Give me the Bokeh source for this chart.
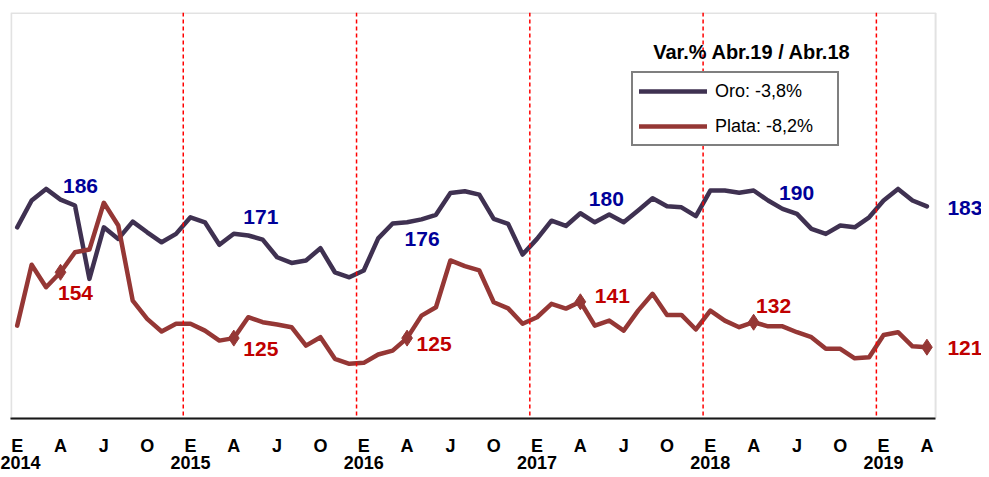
from bokeh.plotting import figure
from bokeh.models import (Range1d, FixedTicker, LinearAxis, Span, Label, Legend,
                          LegendItem, ColumnDataSource, BoxAnnotation)
from bokeh.embed import file_html
from bokeh.resources import INLINE

# ---- data (monthly, Ene-2014 .. Abr-2019) ----
years = ["2014", "2015", "2016", "2017", "2018", "2019"]
month_letters = ["E", "A", "J", "O"]          # Ene, Abr, Jul, Oct
oro = [173.8, 185.6, 190.7, 186.0, 183.4, 151.1, 173.8, 168.7, 176.3, 171.6, 167.2, 170.9,
       178.2, 176.0, 166.1, 171.0, 170.2, 168.4, 160.6, 158.1, 159.2, 164.6, 154.0, 151.8,
       154.8, 168.9, 175.5, 176.0, 177.3, 179.3, 188.9, 189.7, 188.2, 177.5, 175.3, 161.8,
       168.7, 176.7, 174.4, 180.0, 176.0, 179.4, 176.0, 181.2, 186.6, 183.1, 182.6, 178.7,
       190.0, 190.0, 189.0, 190.0, 185.6, 181.9, 179.7, 173.1, 170.9, 174.6, 173.8, 178.2,
       185.6, 190.7, 185.6, 183.0]
plata = [130.5, 157.3, 147.4, 154.0, 162.8, 164.0, 184.6, 174.6, 141.5, 133.5, 127.9, 131.3,
         131.3, 128.3, 123.9, 125.0, 134.2, 132.0, 131.0, 129.8, 121.7, 125.4, 115.9, 113.7,
         114.1, 117.8, 119.5, 125.0, 134.9, 138.6, 159.2, 156.7, 154.8, 140.8, 138.1, 131.3,
         134.2, 140.1, 138.0, 141.0, 130.5, 132.7, 128.3, 137.1, 144.5, 135.2, 135.2, 128.8,
         137.1, 132.7, 129.8, 132.0, 130.2, 130.2, 127.6, 125.4, 120.3, 120.3, 116.1, 116.6,
         126.4, 127.6, 121.4, 121.0]
legend_title = "Var.% Abr.19 / Abr.18"
legend_labels = ["Oro: -3,8%", "Plata: -8,2%"]

n = len(oro)
idx = list(range(n))
apr_idx = [i for i in idx if i % 12 == 3]

ORO_C = "#3F3151"
PLATA_C = "#953735"
ORO_T = "#000099"
PLATA_T = "#C00000"
FONT = "Liberation Sans"

x_start = -0.464
px_per_month = 14.44
frame_w = 971
x_end = x_start + frame_w / px_per_month
box_right = n - 0.4
y_lo, y_hi = 89.6, 268.4

p = figure(frame_width=frame_w, frame_height=406,
           x_range=Range1d(x_start, x_end), y_range=Range1d(y_lo, y_hi),
           output_backend="svg", toolbar_location=None, y_axis_location=None,
           min_border_left=10, min_border_top=12, min_border_right=0, min_border_bottom=20,
           background_fill_color="white", border_fill_color="white")
p.xgrid.visible = False
p.ygrid.visible = False
p.outline_line_color = None

# plot-area frame (ends at the last month, value labels sit outside it)
p.add_layout(BoxAnnotation(left=x_start + 0.05, right=box_right, top=y_hi - 0.2,
                           bottom=y_lo, fill_alpha=0, line_color="#A0A0A0",
                           line_width=2))

src = ColumnDataSource(dict(x=idx, oro=oro, plata=plata))

# year separators
for k in range(1, len(years)):
    p.add_layout(Span(location=12 * k - 0.5, dimension="height", line_color="#FF0000",
                      line_dash="4 3", line_width=1.5))

oro_r = p.line("x", "oro", source=src, line_color=ORO_C, line_width=4.5,
               line_join="round", line_cap="round")
plata_r = p.line("x", "plata", source=src, line_color=PLATA_C, line_width=4.5,
                 line_join="round", line_cap="round")
p.scatter(x=apr_idx, y=[plata[i] for i in apr_idx], marker="diamond", size=16,
          color=PLATA_C)

# value labels at April of each year (dx, dy in screen px; dy up positive)
oro_off = [(20, 14), (27, 17), (15, -17), (26, 14), (43, -2), (38, -2)]
plata_off = [(15, -21), (27, -11), (27, -6), (32, 6), (20, 16), (38, -1)]
for (i, (dx, dy)) in zip(apr_idx, oro_off):
    p.add_layout(Label(x=i, y=oro[i], x_offset=dx, y_offset=dy, text=f"{oro[i]:.0f}",
                       text_align="center", text_baseline="middle", text_font=FONT,
                       text_font_style="bold", text_font_size="21px", text_color=ORO_T))
for (i, (dx, dy)) in zip(apr_idx, plata_off):
    p.add_layout(Label(x=i, y=plata[i], x_offset=dx, y_offset=dy, text=f"{plata[i]:.0f}",
                       text_align="center", text_baseline="middle", text_font=FONT,
                       text_font_style="bold", text_font_size="21px", text_color=PLATA_T))

# x axes: month letters + years
xa = p.xaxis[0]
month_ticks = [i for i in idx if i % 3 == 0]
xa.ticker = FixedTicker(ticks=month_ticks)
xa.bounds = (x_start, box_right)
xa.major_label_overrides = {i: month_letters[(i % 12) // 3] for i in month_ticks}
xa.major_tick_line_color = None
xa.minor_tick_line_color = None
xa.axis_line_color = "black"
xa.axis_line_width = 2
xa.major_label_standoff = 11
xa.major_label_text_font = FONT
xa.major_label_text_font_style = "bold"
xa.major_label_text_font_size = "18px"
xa.major_label_text_color = "black"

year_ticks = [12 * k for k in range(len(years))]
ya = LinearAxis(ticker=FixedTicker(ticks=year_ticks),
                major_label_overrides={t: y for t, y in zip(year_ticks, years)},
                axis_line_color=None, major_tick_line_color=None, minor_tick_line_color=None,
                major_tick_out=0, major_tick_in=0,
                major_label_standoff=-3, major_label_text_font=FONT,
                major_label_text_font_style="bold", major_label_text_font_size="18px",
                major_label_text_color="black")
p.add_layout(ya, "below")

# legend
p.add_layout(Label(x=50.9, y=250.8, text=legend_title, text_align="center",
                   text_baseline="middle", text_font=FONT, text_font_style="bold",
                   text_font_size="20px", text_color="black"))
legend = Legend(items=[LegendItem(label=legend_labels[0], renderers=[oro_r]),
                       LegendItem(label=legend_labels[1], renderers=[plata_r])],
                location=(621, 272), padding=6, spacing=11, margin=0,
                glyph_width=68, glyph_height=24, label_height=24, label_width=116,
                label_standoff=8, label_text_font=FONT, label_text_font_size="18px",
                label_text_color="black", border_line_color="black", border_line_width=2,
                background_fill_color="white", background_fill_alpha=1.0)
p.add_layout(legend)

open("out.html", "w").write(file_html(p, INLINE))
